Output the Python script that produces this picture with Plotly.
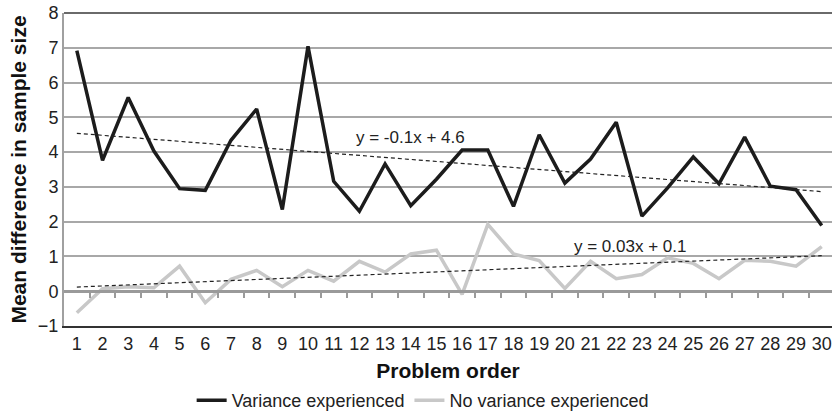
import numpy as np
import plotly.graph_objects as go

# Problem order (1..30)
problem_order = list(range(1, 31))

# Mean difference in sample size per problem
variance_experienced = [
    6.92, 3.76, 5.57, 4.03, 2.95, 2.90, 4.34, 5.24, 2.35, 7.04,
    3.16, 2.30, 3.66, 2.46, 3.22, 4.06, 4.06, 2.44, 4.50, 3.11,
    3.80, 4.86, 2.16, 2.97, 3.86, 3.09, 4.43, 3.02, 2.92, 1.89,
]
no_variance_experienced = [
    -0.62, 0.07, 0.13, 0.10, 0.72, -0.33, 0.34, 0.60, 0.13, 0.60,
    0.29, 0.86, 0.55, 1.07, 1.18, -0.09, 1.92, 1.07, 0.88, 0.08,
    0.86, 0.36, 0.48, 0.96, 0.80, 0.36, 0.89, 0.86, 0.72, 1.28,
]

y_ticks = list(range(-1, 9))
FONT = "Liberation Sans, Arial, sans-serif"

x = np.array(problem_order, dtype=float)


def linear_fit(values):
    slope, intercept = np.polyfit(x, np.array(values), 1)
    return slope, intercept, slope * x + intercept


s_var, b_var, fit_var = linear_fit(variance_experienced)
s_nov, b_nov, fit_nov = linear_fit(no_variance_experienced)

fig = go.Figure()

fig.add_trace(go.Scatter(
    x=problem_order, y=variance_experienced, mode="lines",
    name="Variance experienced",
    line=dict(color="#1c1c1c", width=3.5),
))
fig.add_trace(go.Scatter(
    x=problem_order, y=no_variance_experienced, mode="lines",
    name="No variance experienced",
    line=dict(color="#c8c8c8", width=3.5),
))

# Linear trend lines
for fit in (fit_var, fit_nov):
    fig.add_trace(go.Scatter(
        x=problem_order, y=fit, mode="lines", showlegend=False,
        line=dict(color="#222222", width=1.2, dash="4px,3px"),
        hoverinfo="skip",
    ))

# Trend equations
fig.add_annotation(x=14.0, y=4.43, text=f"y = {s_var:.1f}x + {b_var:.1f}",
                   showarrow=False, font=dict(size=17, color="#222"))
fig.add_annotation(x=22.53, y=1.28, text=f"y = {s_nov:.2f}x + {b_nov:.1f}",
                   showarrow=False, font=dict(size=17, color="#222"))

fig.update_layout(
    width=832, height=413,
    margin=dict(l=64, r=0, t=13, b=87, autoexpand=False),
    paper_bgcolor="white", plot_bgcolor="white",
    font=dict(family=FONT, size=18, color="#222"),
    showlegend=True,
    legend=dict(orientation="h", xref="container", yref="container",
                x=0.508, xanchor="center", y=0.03, yanchor="middle",
                font=dict(size=18, color="#222"),
                itemwidth=30, tracegroupgap=0),
    xaxis=dict(
        range=[0.5, 30.4], tickmode="array", tickvals=problem_order,
        ticktext=[str(v) for v in problem_order],
        showgrid=False, zeroline=False, automargin=False,
        showline=True, linecolor="#333333", linewidth=2,
        ticks="", tickfont=dict(size=18, color="#222"),
        title=dict(text="<b>Problem order</b>", font=dict(size=21, color="#111"),
                   standoff=12),
    ),
    # Category axis line drawn at y = 0 with tick marks between categories
    xaxis2=dict(
        matches="x", overlaying="x", anchor="free", position=1 / 9,
        range=[0.5, 30.4], tickmode="array",
        tickvals=[v + 0.5 for v in problem_order[:-1]],
        showticklabels=False, showgrid=False, zeroline=False,
        showline=True, linecolor="#9a9a9a", linewidth=2.5,
        ticks="outside", ticklen=5, tickwidth=1.5, tickcolor="#9a9a9a",
    ),
    yaxis=dict(
        range=[-1, 8], tickmode="array", tickvals=y_ticks,
        showgrid=True, gridcolor="#a8a8a8", gridwidth=1.5,
        zeroline=False, showline=True, linecolor="#a0a0a0", linewidth=2,
        automargin=False,
        ticks="", tickfont=dict(size=18, color="#222"),
        title=dict(text="<b>Mean difference in sample size</b>",
                   font=dict(size=21, color="#111"), standoff=6),
    ),
    shapes=[dict(type="line", xref="paper", yref="paper", x0=0, x1=1,
                 y0=1, y1=1, line=dict(color="#6a6a6a", width=2))],
)

# Invisible trace to attach the y = 0 axis line
fig.add_trace(go.Scatter(x=[1], y=[0], xaxis="x2", mode="none",
                         showlegend=False, hoverinfo="skip"))

fig.write_html("out.html")
